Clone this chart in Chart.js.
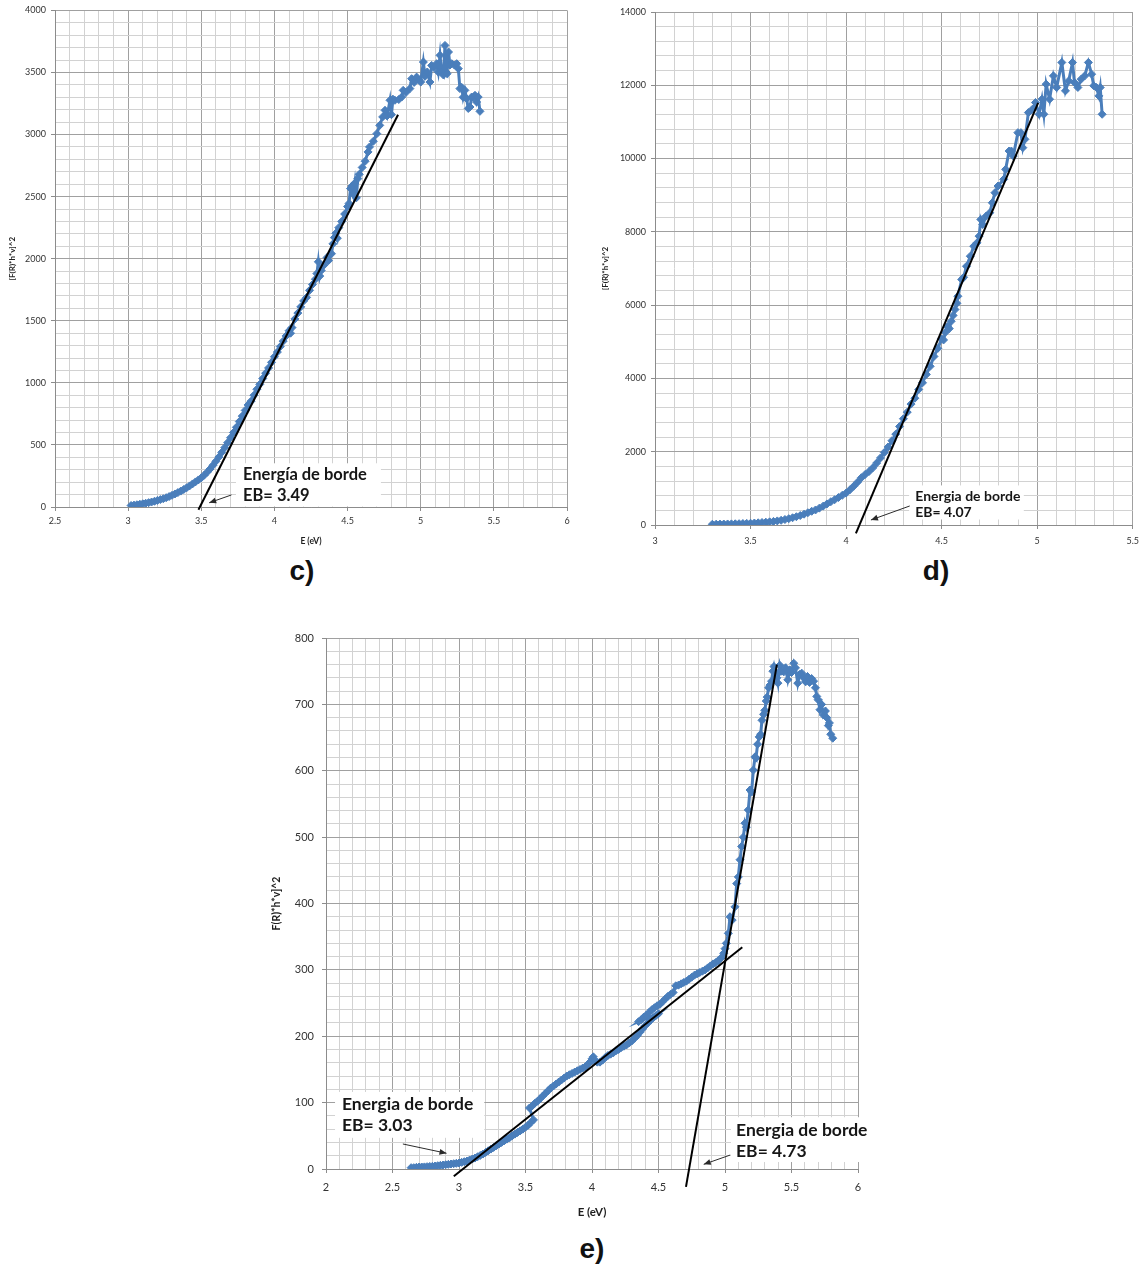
<!DOCTYPE html>
<html>
<head>
<meta charset="utf-8">
<script src="https://cdn.jsdelivr.net/npm/chart.js@4.4.1/dist/chart.umd.min.js"></script>
<style>
  html, body { margin: 0; padding: 0; background: #fff; }
  body { width: 1146px; height: 1266px; position: relative; overflow: hidden; }
  canvas { position: absolute; }
  .tag { position: absolute; font: bold 28px "Liberation Sans", Arial, sans-serif; color: #111;
         transform: translate(-50%, -50%); white-space: nowrap; }
</style>
</head>
<body>
<canvas id="chartC" width="580" height="555" style="left:0;top:0;width:580px;height:555px"></canvas>
<canvas id="chartD" width="551" height="555" style="left:595px;top:0;width:551px;height:555px"></canvas>
<canvas id="chartE" width="628" height="610" style="left:262px;top:620px;width:628px;height:610px"></canvas>
<div class="tag" style="left:302px;top:571px">c)</div>
<div class="tag" style="left:936px;top:571px">d)</div>
<div class="tag" style="left:592px;top:1249px">e)</div>
<script>
// ---- sample c ----
const cEnergy = [3.02,3.04,3.06,3.08,3.10,3.12,3.14,3.16,3.18,3.20,3.22,3.24,3.26,3.28,3.30,3.32,3.34,3.36,3.38,3.40,
  3.42,3.44,3.46,3.48,3.50,3.52,3.54,3.56,3.58,3.60,3.62,3.64,3.66,3.68,3.70,3.72,3.74,3.76,3.78,3.80,
  3.82,3.84,3.86,3.88,3.90,3.92,3.94,3.96,3.98,4.00,4.02,4.04,4.06,4.08,4.10,4.11,4.12,4.14,4.16,4.18,
  4.20,4.22,4.24,4.26,4.28,4.29,4.30,4.31,4.32,4.34,4.36,4.37,4.39,4.40,4.41,4.42,4.43,4.44,4.46,4.48,
  4.50,4.51,4.52,4.53,4.54,4.55,4.56,4.57,4.58,4.60,4.62,4.64,4.65,4.676,4.70,4.72,4.74,4.756,4.77,4.79,
  4.80,4.81,4.824,4.85,4.87,4.88,4.90,4.926,4.938,4.955,4.972,4.99,5.00,5.018,5.03,5.045,5.063,5.075,5.09,5.109,
  5.12,5.132,5.143,5.155,5.166,5.173,5.18,5.19,5.20,5.212,5.23,5.246,5.257,5.268,5.28,5.29,5.302,5.314,5.325,5.337,
  5.348,5.36,5.371,5.382,5.393,5.405];
const cSignal = [12,15,18,22,26,30,35,40,46,53,60,67,75,84,94,105,116,128,141,155,
  170,186,202,218,235,256,280,306,336,368,402,440,478,518,558,600,642,688,732,778,
  822,852,900,948,988,1035,1078,1120,1165,1210,1248,1292,1336,1378,1420,1400,1445,1515,1562,1612,
  1660,1688,1745,1792,1835,1880,1975,1860,1905,1950,2010,1985,2040,2120,2170,2205,2165,2250,2300,2360,
  2420,2445,2565,2585,2520,2610,2490,2645,2680,2735,2785,2860,2900,2946,3007,3074,3142,3195,3150,3276,
  3160,3285,3276,3282,3302,3356,3340,3370,3450,3420,3463,3440,3423,3584,3470,3504,3423,3557,3540,3571,
  3504,3638,3504,3480,3718,3504,3490,3665,3560,3571,3560,3571,3531,3370,3380,3300,3356,3289,3210,3222,
  3302,3300,3316,3262,3302,3187];
const cEdge = 3.49;          // band-edge energy (eV)
const cFitTop = [4.845, 3160];
const cTicksX = [2.5, 3, 3.5, 4, 4.5, 5, 5.5, 6];
const cTicksY = [0, 500, 1000, 1500, 2000, 2500, 3000, 3500, 4000];

// ---- sample d ----
const dEnergy = [3.30,3.32,3.34,3.36,3.38,3.40,3.42,3.44,3.46,3.48,3.50,3.52,3.54,3.56,3.58,3.60,3.62,3.64,3.66,3.68,
  3.70,3.72,3.74,3.76,3.78,3.80,3.82,3.84,3.86,3.88,3.90,3.92,3.94,3.96,3.98,4.00,4.02,4.04,4.06,4.08,
  4.10,4.12,4.14,4.16,4.18,4.20,4.22,4.24,4.26,4.28,4.30,4.32,4.34,4.36,4.38,4.40,4.42,4.44,4.46,4.48,
  4.50,4.51,4.52,4.53,4.54,4.55,4.56,4.57,4.58,4.585,4.605,4.615,4.63,4.65,4.668,4.685,4.696,4.705,4.715,4.733,
  4.752,4.765,4.779,4.795,4.825,4.835,4.853,4.865,4.875,4.899,4.915,4.925,4.936,4.954,4.975,4.991,5.01,5.025,5.035,5.047,
  5.065,5.085,5.102,5.129,5.148,5.165,5.185,5.195,5.213,5.23,5.249,5.268,5.285,5.296,5.31,5.323,5.33,5.34];
const dSignal = [20,22,24,26,28,30,33,36,40,44,48,54,60,68,76,86,98,112,128,150,
  172,198,226,258,295,335,375,410,460,515,575,635,690,750,810,870,960,1060,1170,1290,
  1380,1460,1560,1690,1830,1980,2130,2300,2480,2690,2900,3080,3300,3460,3700,3880,4110,4330,4600,4820,
  5080,5050,5260,5420,5360,5560,5720,5880,6050,6242,6700,6760,7062,7336,7609,7700,7883,8339,8200,8430,
  8521,8795,9069,9251,9433,9706,10206,10206,10069,10708,10708,10298,10525,11255,11346,11529,11209,11620,11209,12030,
  11620,12257,11940,12623,11848,12120,12623,12075,11940,12166,12257,12623,12303,11986,11940,11711,11940,11209];
const dEdge = 4.07;
const dFitTop = [5.005, 11520];
const dTicksX = [3, 3.5, 4, 4.5, 5, 5.5];
const dTicksY = [0, 2000, 4000, 6000, 8000, 10000, 12000, 14000];

// ---- sample e ----
const eEnergy = [2.64,2.66,2.68,2.70,2.72,2.74,2.76,2.78,2.80,2.82,2.84,2.86,2.88,2.90,2.92,2.94,2.96,2.98,3.00,3.02,
  3.04,3.06,3.08,3.10,3.12,3.14,3.16,3.18,3.20,3.22,3.24,3.26,3.28,3.30,3.32,3.34,3.36,3.38,3.40,3.42,
  3.44,3.46,3.48,3.50,3.52,3.54,3.56,
  3.53,3.55,3.57,3.59,3.61,3.63,3.65,3.67,3.69,3.71,3.73,3.75,3.77,3.79,3.81,3.83,3.85,3.87,3.89,3.91,
  3.93,3.95,3.97,3.99,4.00,4.01,4.02,4.04,4.06,4.08,4.10,4.12,4.14,4.16,4.18,4.20,4.22,4.24,4.26,4.28,
  4.30,4.32,4.34,4.36,4.38,4.40,4.42,4.44,4.46,4.48,4.50,
  4.35,4.37,4.39,4.41,4.43,4.45,4.47,4.49,4.51,4.53,4.55,4.57,4.59,4.61,4.63,4.65,4.67,4.69,4.71,4.73,
  4.75,4.77,4.79,4.81,4.83,4.85,4.87,4.89,4.91,4.93,4.95,4.97,4.99,5.00,5.01,5.025,5.038,5.054,5.075,5.088,
  5.10,5.113,5.125,5.138,5.15,5.16,5.175,5.188,5.20,5.213,5.226,5.233,5.245,5.257,5.268,5.278,5.29,5.299,5.31,5.317,
  5.328,5.338,5.35,5.36,5.368,5.38,5.39,5.398,5.405,5.412,5.425,5.442,5.455,5.472,5.487,5.50,5.517,5.53,5.547,5.56,
  5.577,5.59,5.606,5.62,5.636,5.651,5.666,5.68,5.69,5.70,5.714,5.726,5.74,5.755,5.765,5.777,5.785,5.795,5.81];
const eSignal = [2,2,2.5,3,3,3.2,3.5,3.8,4,4.5,5,5.5,6,6.5,7,7.5,8,8.5,9,10,
  11,12,13.5,15,16.5,18.5,20.5,22.5,25,27.5,30,32.5,35,37.5,40,42.5,45,47,50,52.5,
  55,57.5,60,63,66,70,74,
  92,95,99,102,106,110,114,118,122,125,128,131,134,137,140,142,144,146,148,150,
  152,154,158,162,166,169,163,161,161,164,168,171,173,175,178,180,183,185,187,190,
  193,197,201,206,211,216,220,224,228,231,234,
  222,225,229,232,236,240,243,246,248,252,256,260,263,266,276,277,279,281,283,286,
  289,292,294,296,298,300,303,306,309,311,314,318,325,332,340,355,380,375,395,430,
  440,466,486,500,521,515,541,571,568,601,621,619,640,651,655,676,685,691,705,711,
  725,729,735,750,757,745,740,732,748,759,750,749,755,737,752,748,762,755,732,745,
  747,740,734,742,733,739,735,725,712,707,692,700,684,690,680,668,672,655,649];
const eEdgeLow = 3.03;
const eFitLowTop = [5.13, 334];
const eEdgeHigh = 4.73;
const eFitHighTop = [5.39, 760];
const eTicksX = [2, 2.5, 3, 3.5, 4, 4.5, 5, 5.5, 6];
const eTicksY = [0, 100, 200, 300, 400, 500, 600, 700, 800];

// ---- helpers ----
const BLUE = '#4a7ebb';
const GRID_MAJOR = '#a0a0a0';
const GRID_MINOR = '#d2d2d2';
const FONT = 'Lato, "DejaVu Sans", sans-serif';

function points(xs, ys) { return xs.map((x, i) => ({ x: x, y: ys[i] })); }

// straight tangent line through (edge, 0) and its upper end, run a little below zero
function tangent(edge, top, below) {
  const slope = top[1] / (top[0] - edge);
  return [{ x: edge + below / slope, y: below }, { x: top[0], y: top[1] }];
}

function isMajor(v, list) { return list.some(t => Math.abs(t - v) < 1e-6); }

function fmt(v) { return String(Number(v.toFixed(1))); }

// arrows, white label boxes and the edge-energy texts
const edgeNotes = {
  id: 'edgeNotes',
  afterDatasetsDraw(chart, args, opts) {
    const { ctx } = chart;
    const x = chart.scales.x, y = chart.scales.y;
    (opts.notes || []).forEach(n => {
      ctx.save();
      const bx1 = x.getPixelForValue(n.box[0]), bx2 = x.getPixelForValue(n.box[1]);
      const byTop = y.getPixelForValue(n.box[3]), byBot = y.getPixelForValue(n.box[2]);
      ctx.fillStyle = '#ffffff';
      ctx.fillRect(bx1, byTop, bx2 - bx1, byBot - byTop);
      ctx.font = n.font;
      ctx.fillStyle = '#161616';
      ctx.textAlign = 'left';
      ctx.textBaseline = 'middle';
      n.lines.forEach((t, i) => ctx.fillText(t, x.getPixelForValue(n.textE), y.getPixelForValue(n.textV[i])));
      // arrow
      const x0 = x.getPixelForValue(n.arrow[0][0]), y0 = y.getPixelForValue(n.arrow[0][1]);
      const x1 = x.getPixelForValue(n.arrow[1][0]), y1 = y.getPixelForValue(n.arrow[1][1]);
      ctx.strokeStyle = '#2a2a2a';
      ctx.fillStyle = '#2a2a2a';
      ctx.lineWidth = 1;
      ctx.beginPath(); ctx.moveTo(x0, y0); ctx.lineTo(x1, y1); ctx.stroke();
      const a = Math.atan2(y1 - y0, x1 - x0), L = 7, W = 3;
      ctx.beginPath();
      ctx.moveTo(x1, y1);
      ctx.lineTo(x1 - L * Math.cos(a) + W * Math.sin(a), y1 - L * Math.sin(a) - W * Math.cos(a));
      ctx.lineTo(x1 - L * Math.cos(a) - W * Math.sin(a), y1 - L * Math.sin(a) + W * Math.cos(a));
      ctx.closePath(); ctx.fill();
      ctx.restore();
    });
  }
};

function axis(cfg) {
  return {
    type: 'linear',
    position: cfg.position,
    min: cfg.min, max: cfg.max,
    afterFit: cfg.fit,
    border: { display: true, color: '#8c8c8c', width: 1 },
    grid: {
      color: c => isMajor(c.tick.value, cfg.major) ? GRID_MAJOR : GRID_MINOR,
      tickColor: c => isMajor(c.tick.value, cfg.major) ? '#8c8c8c' : 'rgba(0,0,0,0)',
      tickLength: 4,
      lineWidth: 1
    },
    ticks: {
      stepSize: cfg.step,
      maxTicksLimit: 1000,
      autoSkip: false,
      maxRotation: 0,
      padding: cfg.pad,
      color: '#333',
      font: { family: FONT, size: cfg.fontSize },
      callback: v => isMajor(v, cfg.major) ? fmt(v) : ''
    },
    title: cfg.title ? {
      display: true, text: cfg.title, color: '#1e1e1e',
      font: { family: FONT, size: cfg.titleSize, weight: 'bold' },
      padding: cfg.titlePad
    } : { display: false }
  };
}

function dataSet(xs, ys) {
  return {
    data: points(xs, ys), showLine: true, order: 2,
    borderColor: BLUE, borderWidth: 3,
    pointStyle: 'rectRot', pointRadius: 4, pointHoverRadius: 4,
    pointBackgroundColor: BLUE, pointBorderColor: BLUE, pointBorderWidth: 1
  };
}

function fitSet(pts) {
  return {
    data: pts, showLine: true, order: 1, clip: false,
    borderColor: '#000', borderWidth: 2, pointRadius: 0, pointHoverRadius: 0
  };
}

function build(id, datasets, xAxis, yAxis, padding, notes) {
  return new Chart(document.getElementById(id), {
    type: 'scatter',
    data: { datasets: datasets },
    options: {
      responsive: false, animation: false, devicePixelRatio: 1,
      layout: { padding: padding },
      plugins: { legend: { display: false }, tooltip: { enabled: false }, edgeNotes: { notes: notes } },
      scales: { x: xAxis, y: yAxis }
    },
    plugins: [edgeNotes]
  });
}

// ---- chart c ----
build('chartC',
  [fitSet(tangent(cEdge, cFitTop, -22)), dataSet(cEnergy, cSignal)],
  axis({ position: 'bottom', min: 2.5, max: 6, step: 0.1, major: cTicksX, pad: 5, fontSize: 9,
         title: 'E (eV)', titleSize: 8.5, titlePad: { top: 0, bottom: 9 }, fit: s => { s.height = 48; } }),
  axis({ position: 'left', min: 0, max: 4000, step: 100, major: cTicksY, pad: 5, fontSize: 9,
         title: '[F(R)*h*v]^2', titleSize: 8, titlePad: { top: 8, bottom: 0 }, fit: s => { s.width = 55; } }),
  { top: 10, right: 13, left: 0, bottom: 0 },
  [{ box: [3.737, 4.728, 4, 352], textE: 3.785, textV: [257, 88],
     lines: ['Energía de borde', 'EB= ' + cEdge.toFixed(2)],
     font: 'bold 16.5px ' + FONT,
     arrow: [[3.706, 97], [3.554, 34]] }]
);

// ---- chart d ----
build('chartD',
  [fitSet(tangent(dEdge, dFitTop, -230)), dataSet(dEnergy, dSignal)],
  axis({ position: 'bottom', min: 3, max: 5.5, step: 0.1, major: dTicksX, pad: 7, fontSize: 9,
         title: null, fit: s => { s.height = 30; } }),
  axis({ position: 'left', min: 0, max: 14000, step: 400, major: dTicksY, pad: 5, fontSize: 9,
         title: '[F(R)*h*v]^2', titleSize: 8, titlePad: { top: 6, bottom: 0 }, fit: s => { s.width = 60; } }),
  { top: 12, right: 8, left: 0, bottom: 0 },
  [{ box: [4.330, 4.93, 150, 1080], textE: 4.362, textV: [774, 347],
     lines: ['Energia de borde', 'EB= ' + dEdge.toFixed(2)],
     font: 'bold 14px ' + FONT,
     arrow: [[4.333, 519], [4.13, 137]] }]
);

// ---- chart e ----
build('chartE',
  [fitSet(tangent(eEdgeLow, eFitLowTop, -11)), fitSet(tangent(eEdgeHigh, eFitHighTop, -27)), dataSet(eEnergy, eSignal)],
  axis({ position: 'bottom', min: 2, max: 6, step: 0.1, major: eTicksX, pad: 8, fontSize: 11,
         title: 'E (eV)', titleSize: 11.5, titlePad: { top: 0, bottom: 11 }, fit: s => { s.height = 61; } }),
  axis({ position: 'left', min: 0, max: 800, step: 20, major: eTicksY, pad: 8, fontSize: 11,
         title: 'F(R)*h*v]^2', titleSize: 10.5, titlePad: { top: 8, bottom: 0 }, fit: s => { s.width = 64; } }),
  { top: 18, right: 32, left: 0, bottom: 0 },
  [{ box: [2.068, 3.19, 47, 116], textE: 2.12, textV: [97.5, 66.3],
     lines: ['Energia de borde', 'EB= ' + eEdgeLow.toFixed(2)],
     font: 'bold 17.5px ' + FONT,
     arrow: [[2.578, 37.7], [2.906, 23.7]] },
   { box: [5.045, 6.105, 10.5, 78], textE: 5.083, textV: [57.7, 26],
     lines: ['Energia de borde', 'EB= ' + eEdgeHigh.toFixed(2)],
     font: 'bold 17.5px ' + FONT,
     arrow: [[5.039, 21], [4.84, 7]] }]
);
</script>
</body>
</html>
